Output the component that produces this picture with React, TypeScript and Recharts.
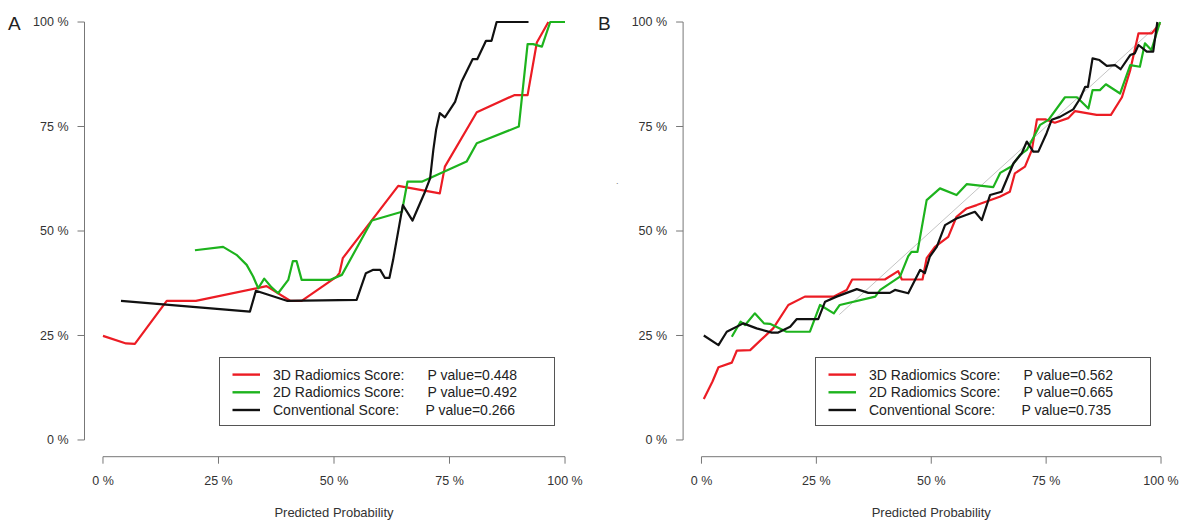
import { LineChart, Line, XAxis, YAxis, ReferenceLine, Legend } from 'recharts'

const axisTicks = [0, 25, 50, 75, 100]
const seriesNames = ['3D Radiomics Score:', '2D Radiomics Score:', 'Conventional Score:']
const seriesColors = ['#ec1c24', '#1db31d', '#111111']
const pValuesA = ['P value=0.448', 'P value=0.492', 'P value=0.266']
const pValuesB = ['P value=0.562', 'P value=0.665', 'P value=0.735']

// [predicted %, observed %]
const redA = [
  [0, 24.9], [5.0, 23.1], [6.9, 23.0], [13.8, 33.3], [20.1, 33.3], [35.4, 36.8], [40.5, 33.3],
  [43.0, 33.3], [50.6, 39.1], [51.2, 40.0], [51.9, 43.5], [63.9, 60.8], [72.9, 59.0], [74.0, 65.4],
  [80.9, 78.4], [89.0, 82.5], [91.9, 82.5], [93.9, 95.1], [96.4, 100],
]
const greenA = [
  [19.9, 45.4], [26.0, 46.2], [28.9, 44.3], [31.1, 41.9], [32.5, 39.1], [33.6, 36.3], [34.9, 38.6],
  [36.5, 36.5], [37.9, 35.1], [40.1, 38.3], [41.1, 42.8], [41.9, 42.8], [43.0, 38.3], [49.1, 38.3],
  [51.7, 39.5], [58.2, 52.5], [64.7, 54.6], [65.9, 61.8], [69.0, 61.8], [78.7, 66.6], [80.9, 71.0],
  [90.0, 75.0], [91.9, 94.7], [93.1, 94.7], [95.0, 94.1], [96.8, 100], [100, 100],
]
const blackA = [
  [3.9, 33.3], [31.8, 30.7], [33.1, 35.7], [39.8, 33.3], [54.9, 33.5], [56.9, 39.9], [58.5, 40.7],
  [60.0, 40.7], [61.0, 38.8], [62.0, 38.8], [62.8, 43.1], [64.9, 56.2], [67.0, 52.5], [69.7, 59.4],
  [70.8, 62.6], [71.5, 69.4], [72.1, 74.2], [72.9, 78.2], [74.0, 77.2], [76.2, 80.9], [77.6, 85.7],
  [80.0, 91.1], [81.0, 91.1], [82.9, 95.5], [84.1, 95.5], [85.2, 100], [92.1, 100],
]

const redB = [
  [0.5, 9.8], [2.4, 14.0], [3.7, 17.4], [6.6, 18.5], [7.7, 21.4], [10.6, 21.5], [15.6, 26.7],
  [18.9, 32.3], [22.5, 34.3], [28.7, 34.3], [31.6, 35.9], [32.8, 38.4], [39.9, 38.4], [42.8, 40.4],
  [43.6, 38.4], [48.1, 38.4], [49.0, 43.5], [50.8, 46.2], [53.7, 48.6], [55.5, 53.4], [57.7, 55.4],
  [59.9, 56.2], [64.9, 58.2], [67.1, 59.4], [68.2, 63.8], [70.4, 65.4], [71.9, 69.4], [73.0, 76.7],
  [74.8, 76.7], [76.9, 75.9], [79.8, 77.0], [81.3, 78.7], [86.0, 77.8], [89.1, 77.8], [91.5, 82.0],
  [93.3, 88.5], [95.1, 97.3], [98.0, 97.3], [99.8, 99.7],
]
const greenB = [
  [6.6, 24.7], [8.5, 28.3], [9.5, 27.5], [11.6, 30.3], [13.6, 27.9], [14.9, 27.8], [18.5, 25.9],
  [23.6, 25.9], [25.8, 32.3], [28.8, 30.3], [30.1, 32.3], [37.8, 34.3], [38.9, 35.9], [43.2, 39.1],
  [45.0, 44.0], [45.7, 45.0], [47.0, 45.0], [49.0, 57.4], [51.9, 60.2], [55.5, 58.6], [57.7, 61.2],
  [63.5, 60.5], [65.0, 63.9], [67.5, 65.5], [69.3, 68.2], [70.8, 69.4], [73.7, 75.4], [75.5, 76.6],
  [79.1, 82.0], [81.7, 82.0], [84.2, 79.3], [85.1, 83.7], [86.7, 83.7], [88.0, 85.1], [91.1, 82.9],
  [93.3, 89.7], [95.4, 89.3], [96.5, 94.9], [97.9, 93.3], [99.8, 100],
]
const blackB = [
  [0.5, 25.0], [3.7, 22.7], [5.5, 25.9], [9.1, 27.9], [12.0, 26.7], [15.3, 25.7], [16.7, 25.7],
  [19.3, 27.1], [20.7, 28.9], [25.4, 28.9], [26.9, 33.1], [29.4, 34.3], [33.8, 36.1], [36.3, 35.2],
  [41.0, 35.2], [42.1, 35.9], [45.0, 35.1], [47.6, 40.7], [48.6, 39.9], [49.7, 43.9], [51.2, 46.2],
  [53.0, 51.4], [55.5, 53.0], [59.5, 54.6], [61.0, 52.6], [62.8, 58.6], [65.3, 59.4], [67.9, 66.2],
  [69.7, 68.6], [70.8, 71.4], [72.2, 69.0], [73.3, 69.0], [75.1, 73.4], [76.2, 76.6], [78.0, 77.3],
  [80.9, 79.1], [82.4, 81.7], [83.5, 84.5], [84.1, 84.5], [85.1, 91.3], [86.6, 90.9], [88.2, 89.5],
  [90.0, 89.7], [91.2, 88.7], [93.3, 92.1], [94.3, 92.5], [95.1, 94.5], [96.9, 92.9], [98.3, 92.9],
  [99.2, 100],
]
const idealB = [[30, 30], [98, 98]]

const toPoints = (arr: number[][]) => arr.map(([x, y]) => ({ x, y }))
const pct = (v: number) => `${v} %`

const FONT = '"Liberation Sans", Arial, sans-serif'
const AXIS = '#777'
const TEXT = '#333'

function makeLegend(pValues: string[]) {
  return (props: any) => {
    const items = (props.payload || [])
      .filter((p: any) => seriesNames.includes(p.value))
      .sort((a: any, b: any) => seriesNames.indexOf(a.value) - seriesNames.indexOf(b.value))
    return (
      <svg width={336} height={69} style={{ display: 'block', fontFamily: FONT }}>
        <rect x={0.5} y={0.5} width={335} height={68} fill="#fff" stroke="#555" strokeWidth={1} />
        {items.map((p: any, i: number) => (
          <g key={p.value}>
            <line x1={13.5} x2={41} y1={17.6 + i * 17.7} y2={17.6 + i * 17.7} stroke={p.color} strokeWidth={2.4} />
            <text x={54} y={22.6 + i * 17.7} fontSize={14} fill="#222">{p.value}</text>
            <text x={i === 2 ? 206.5 : 208.5} y={22.6 + i * 17.7} fontSize={14} fill="#222">
              {pValues[seriesNames.indexOf(p.value)]}
            </text>
          </g>
        ))}
      </svg>
    )
  }
}

interface PanelProps {
  letter: string
  left: number
  width: number
  plotLeft: number
  plotRight: number
  legendLeft: number
  series: number[][][]
  pValues: string[]
  ideal?: number[][]
}

function Panel({ letter, left, width, plotLeft, plotRight, legendLeft, series, pValues, ideal }: PanelProps) {
  return (
    <div style={{ position: 'absolute', left, top: 0, width, height: 522 }}>
      <LineChart width={width} height={522} margin={{ top: 5.3, right: width - plotRight, bottom: 0, left: 0 }}>
        <XAxis
          type="number"
          dataKey="x"
          domain={[-4, 104]}
          ticks={axisTicks}
          tickFormatter={pct}
          allowDataOverflow
          axisLine={false}
          tickLine={{ stroke: AXIS }}
          tickSize={7}
          tickMargin={12.5}
          height={65.3}
          tick={{ fill: TEXT, fontSize: 12.5, fontFamily: FONT }}
          label={{ value: 'Predicted Probability', position: 'insideBottom', offset: 5.5, fill: TEXT, fontSize: 13, fontFamily: FONT }}
        />
        <YAxis
          type="number"
          dataKey="y"
          domain={[-4, 104]}
          ticks={axisTicks}
          tickFormatter={pct}
          allowDataOverflow
          axisLine={false}
          tickLine={{ stroke: AXIS }}
          tickSize={7}
          tickMargin={9}
          width={plotLeft}
          tick={{ fill: TEXT, fontSize: 12.5, fontFamily: FONT }}
        />
        <ReferenceLine segment={[{ x: 0, y: -4 }, { x: 100, y: -4 }]} stroke={AXIS} strokeWidth={1} ifOverflow="visible" />
        <ReferenceLine segment={[{ x: -4, y: 0 }, { x: -4, y: 100 }]} stroke={AXIS} strokeWidth={1} ifOverflow="visible" />
        {ideal && (
          <Line data={toPoints(ideal)} dataKey="y" stroke="#c4c4c4" strokeWidth={1} dot={false}
            legendType="none" isAnimationActive={false} />
        )}
        {series.map((s, i) => (
          <Line key={seriesNames[i]} data={toPoints(s)} dataKey="y" name={seriesNames[i]}
            stroke={seriesColors[i]} strokeWidth={2.2} strokeLinejoin="round" dot={false}
            activeDot={false} isAnimationActive={false} />
        ))}
        <Legend
          layout="vertical"
          align="center"
          verticalAlign="middle"
          wrapperStyle={{ left: legendLeft, top: 356.7, width: 336, height: 69 }}
          content={makeLegend(pValues)}
        />
      </LineChart>
      <div style={{ position: 'absolute', left: 8, top: 13.9, fontSize: 19, lineHeight: '19px', fontFamily: FONT, color: '#222' }}>
        {letter}
      </div>
    </div>
  )
}

export default function App() {
  return (
    <div style={{ position: 'absolute', left: 0, top: 0, width: 1184, height: 522, overflow: 'hidden', background: '#fff' }}>
      <Panel letter="A" left={0} width={590} plotLeft={84.5} plotRight={583.5} legendLeft={218.5}
        series={[redA, greenA, blackA]} pValues={pValuesA} />
      <Panel letter="B" left={590} width={594} plotLeft={93.1} plotRight={589.4} legendLeft={225}
        series={[redB, greenB, blackB]} pValues={pValuesB} ideal={idealB} />
      <div style={{ position: 'absolute', left: 616, top: 176, fontSize: 9, fontFamily: FONT, color: '#777' }}>.</div>
    </div>
  )
}
